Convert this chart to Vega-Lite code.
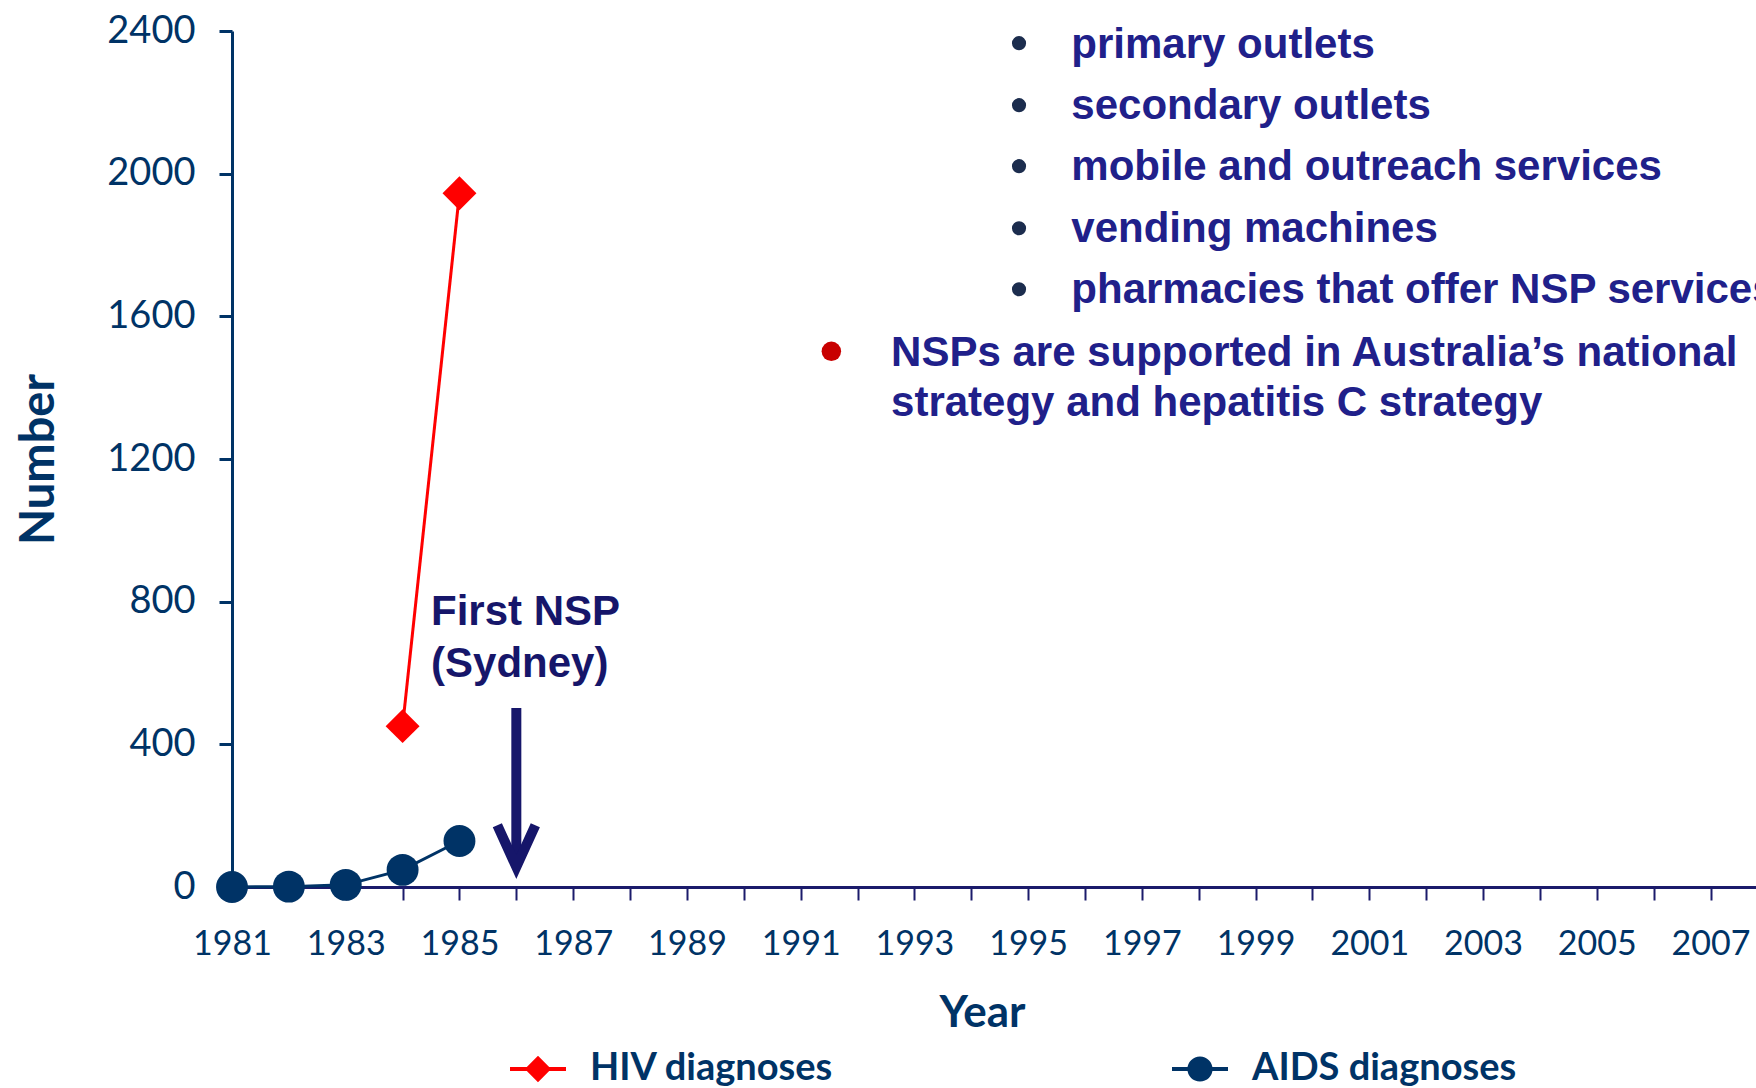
{
  "$schema": "https://vega.github.io/schema/vega-lite/v6.json",
  "width": 1524,
  "height": 856,
  "autosize": {"type": "none"},
  "padding": {"left": 232, "top": 31, "right": 0, "bottom": 201},
  "background": "white",
  "config": {"view": {"stroke": null}, "axis": {"grid": false}},
  "datasets": {
    "series": [
      {"year": 1984, "number": 451, "series": "HIV diagnoses"},
      {"year": 1985, "number": 1945, "series": "HIV diagnoses"},
      {"year": 1981, "number": 0, "series": "AIDS diagnoses"},
      {"year": 1982, "number": 1, "series": "AIDS diagnoses"},
      {"year": 1983, "number": 6, "series": "AIDS diagnoses"},
      {"year": 1984, "number": 48, "series": "AIDS diagnoses"},
      {"year": 1985, "number": 129, "series": "AIDS diagnoses"}
    ],
    "notes": [
      {"year": 1995.76, "number": 2362, "label": "primary outlets"},
      {"year": 1995.76, "number": 2190, "label": "secondary outlets"},
      {"year": 1995.76, "number": 2020, "label": "mobile and outreach services"},
      {"year": 1995.76, "number": 1846, "label": "vending machines"},
      {"year": 1995.76, "number": 1675, "label": "pharmacies that offer NSP services"},
      {"year": 1992.59, "number": 1497, "label": "NSPs are supported in Australia’s national"},
      {"year": 1992.59, "number": 1357, "label": "strategy and hepatitis C strategy"}
    ],
    "bullets": [
      {"year": 1994.84, "number": 2366, "kind": "sub"},
      {"year": 1994.84, "number": 2192, "kind": "sub"},
      {"year": 1994.84, "number": 2021, "kind": "sub"},
      {"year": 1994.84, "number": 1847, "kind": "sub"},
      {"year": 1994.84, "number": 1676, "kind": "sub"},
      {"year": 1991.54, "number": 1502, "kind": "main"}
    ],
    "nsp": [
      {"year": 1984.5, "number": 771, "label": "First NSP"},
      {"year": 1984.5, "number": 625, "label": "(Sydney)"}
    ],
    "arrow": [
      {"year": 1986, "number": 502, "end": 56}
    ]
  },
  "encoding": {
    "x": {
      "field": "year",
      "type": "quantitative",
      "scale": {"domain": [1981, 2007.8], "nice": false, "zero": false},
      "axis": {
        "title": "Year",
        "values": [1981,1982,1983,1984,1985,1986,1987,1988,1989,1990,1991,1992,1993,1994,1995,1996,1997,1998,1999,2000,2001,2002,2003,2004,2005,2006,2007],
        "labelExpr": "datum.value % 2 == 1 ? format(datum.value, 'd') : ''",
        "labelFont": "Lato",
        "labelFontSize": 34,
        "labelColor": "#003366",
        "labelPadding": 27,
        "labelFlush": false,
        "labelOverlap": false,
        "tickSize": 13,
        "tickWidth": 2,
        "tickColor": "#1b1b6b",
        "domainColor": "#1b1b6b",
        "domainWidth": 3,
        "titleFont": "Lato",
        "titleFontSize": 44,
        "titleFontWeight": "bold",
        "titleColor": "#003366",
        "titlePadding": 30,
        "titleX": 750
      }
    },
    "y": {
      "field": "number",
      "type": "quantitative",
      "scale": {"domain": [0, 2400], "nice": false},
      "axis": {
        "title": "Number",
        "values": [0, 400, 800, 1200, 1600, 2000, 2400],
        "format": "d",
        "labelFont": "Lato",
        "labelFontSize": 38,
        "labelColor": "#003366",
        "labelPadding": 24,
        "tickSize": 13,
        "tickWidth": 3,
        "tickColor": "#003366",
        "domainColor": "#003366",
        "domainWidth": 3,
        "titleFont": "Lato",
        "titleFontSize": 47,
        "titleFontWeight": "bold",
        "titleColor": "#003366",
        "titlePadding": 43
      }
    }
  },
  "layer": [
    {
      "data": {"name": "series"},
      "mark": {"type": "point", "filled": true, "opacity": 0},
      "encoding": {
        "color": {
          "field": "series",
          "type": "nominal",
          "scale": {"domain": ["HIV diagnoses", "AIDS diagnoses"], "range": ["#ff0000", "#003366"]},
          "legend": {
            "title": null,
            "orient": "none",
            "legendX": 278,
            "legendY": 1010,
            "direction": "horizontal",
            "padding": 0,
            "symbolSize": 3136,
            "symbolOpacity": 1,
            "symbolStrokeWidth": 0,
            "labelFont": "Lato",
            "labelFontSize": 38,
            "labelFontWeight": "bold",
            "labelColor": "#003366",
            "labelLimit": 500,
            "labelOffset": 24,
            "columnPadding": 338,
            "encode": {"symbols": {"update": {"opacity": {"value": 1}, "fillOpacity": {"value": 1}}}}
          }
        },
        "shape": {
          "field": "series",
          "type": "nominal",
          "scale": {
            "domain": ["HIV diagnoses", "AIDS diagnoses"],
            "range": [
              "M -1 -0.07 L -0.4 -0.07 L -0.4 0.07 L -1 0.07 Z M 0.4 -0.07 L 1 -0.07 L 1 0.07 L 0.4 0.07 Z M -0.47 0 L 0 -0.47 L 0.47 0 L 0 0.47 Z",
              "M -1 -0.07 L -0.4 -0.07 L -0.4 0.07 L -1 0.07 Z M 0.4 -0.07 L 1 -0.07 L 1 0.07 L 0.4 0.07 Z M -0.45 0 A 0.45 0.45 0 1 1 0.45 0 A 0.45 0.45 0 1 1 -0.45 0 Z"
            ]
          },
          "legend": {"title": null}
        }
      }
    },
    {
      "data": {"name": "series"},
      "mark": {"type": "line", "strokeWidth": 3},
      "encoding": {
        "color": {"field": "series", "type": "nominal"}
      }
    },
    {
      "data": {"name": "series"},
      "transform": [{"filter": "datum.series == 'HIV diagnoses'"}],
      "mark": {"type": "point", "shape": "diamond", "filled": true, "size": 1150, "color": "#ff0000", "opacity": 1}
    },
    {
      "data": {"name": "series"},
      "transform": [{"filter": "datum.series == 'AIDS diagnoses'"}],
      "mark": {"type": "point", "shape": "circle", "filled": true, "size": 1018, "color": "#003366", "opacity": 1}
    },
    {
      "data": {"name": "arrow"},
      "mark": {"type": "rule", "strokeWidth": 10, "color": "#16166a"},
      "encoding": {
        "y2": {"field": "end"}
      }
    },
    {
      "data": {"name": "arrow"},
      "mark": {"type": "point", "shape": "M -1 -2.2 L 0 0 L 1 -2.2", "filled": false, "size": 1444, "strokeWidth": 10, "strokeJoin": "miter", "strokeCap": "butt", "color": "#16166a", "opacity": 1},
      "encoding": {
        "y": {"field": "end", "type": "quantitative"}
      }
    },
    {
      "data": {"name": "nsp"},
      "mark": {"type": "text", "align": "left", "baseline": "middle", "font": "Liberation Sans", "fontWeight": "bold", "fontSize": 42, "color": "#16166a"},
      "encoding": {"text": {"field": "label"}}
    },
    {
      "data": {"name": "notes"},
      "mark": {"type": "text", "align": "left", "baseline": "middle", "font": "Liberation Sans", "fontWeight": "bold", "fontSize": 42, "color": "#20208a"},
      "encoding": {"text": {"field": "label"}}
    },
    {
      "data": {"name": "bullets"},
      "transform": [{"filter": "datum.kind == 'sub'"}],
      "mark": {"type": "point", "shape": "circle", "filled": true, "size": 200, "color": "#1c2d4e", "opacity": 1}
    },
    {
      "data": {"name": "bullets"},
      "transform": [{"filter": "datum.kind == 'main'"}],
      "mark": {"type": "point", "shape": "circle", "filled": true, "size": 380, "color": "#c80000", "opacity": 1}
    }
  ]
}
